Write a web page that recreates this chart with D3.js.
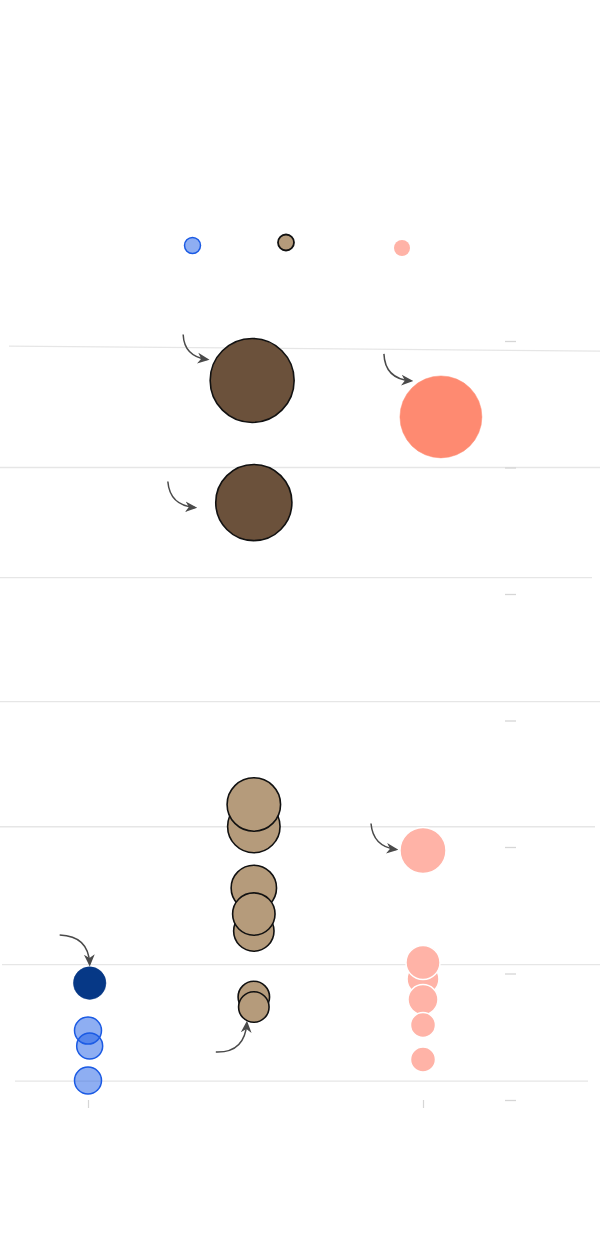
<!DOCTYPE html>
<html>
<head>
<meta charset="utf-8">
<script src="https://cdn.jsdelivr.net/npm/d3@7"></script>
<style>
  html, body { margin: 0; padding: 0; background: #fff; }
  svg { display: block; }
</style>
</head>
<body>
<svg id="chart" width="600" height="1258"></svg>
<script>
// ---------- data ----------
const categories = ["blue", "brown", "salmon"];
const yTicks = [0, 10, 20, 30, 40, 50, 60];
const xTicks = [0, 2];
// gridline values (start value at left, end value at right)
const gridStart = [59.6, 50.0, 41.3, 31.5, 21.6, 10.7, 1.5];
const gridEnd   = [59.2, 50.0, 41.3, 31.5, 21.6, 10.7, 1.5];

// each point: x (column value), y value, size (area value), highlighted flag
const bluePoints = [
  { x: 0.00, y: 5.49, size: 7.29, hi: false },
  { x: 0.01, y: 4.27, size: 6.76, hi: false },
  { x: 0.00, y: 1.54, size: 7.29, hi: false },
  { x: 0.01, y: 9.24, size: 10.6, hi: true }
];
const brownPoints = [
  { x: 0.98, y: 56.88, size: 70.5, hi: true },
  { x: 0.99, y: 47.23, size: 58.0, hi: true },
  { x: 0.99, y: 21.62, size: 27.5, hi: false },
  { x: 0.99, y: 23.36, size: 28.6, hi: false },
  { x: 0.99, y: 16.76, size: 20.6, hi: false },
  { x: 0.99, y: 13.36, size: 16.3, hi: false },
  { x: 0.99, y: 14.70, size: 18.0, hi: false },
  { x: 0.99, y: 8.14,  size: 9.9,  hi: false },
  { x: 0.99, y: 7.35,  size: 9.3,  hi: false }
];
const salmonPoints = [
  { x: 2.107, y: 54.0, size: 67.2, hi: true },
  { x: 2.00, y: 9.57,  size: 10.2, hi: false },
  { x: 2.00, y: 10.87, size: 11.6, hi: false },
  { x: 2.00, y: 7.94,  size: 9.0,  hi: false },
  { x: 2.00, y: 5.93,  size: 6.25, hi: false },
  { x: 2.00, y: 3.20,  size: 6.25, hi: false },
  { x: 2.00, y: 19.72, size: 21.2, hi: false }
];

// ---------- scales ----------
const svg = d3.select("#chart");
const x = d3.scaleLinear().domain([0, 2]).range([88, 423]);
const y = d3.scaleLinear().domain([0, 60]).range([1100, 341]);
const r = d3.scaleSqrt().domain([0, 100]).range([0, 50]);

const styles = {
  blue:   { light: { fill: "#1d5ee6", fillOpacity: 0.5, stroke: "#1a5ae4", sw: 1.5 },
            dark:  { fill: "#063886", fillOpacity: 1, stroke: "#063886", sw: 0.5 } },
  brown:  { light: { fill: "#b59b7b", fillOpacity: 1, stroke: "#111", sw: 1.6 },
            dark:  { fill: "#6b513b", fillOpacity: 1, stroke: "#111", sw: 1.6 } },
  salmon: { light: { fill: "#ffb3a7", fillOpacity: 1, stroke: "#fff", sw: 1.5 },
            dark:  { fill: "#fe8a71", fillOpacity: 1, stroke: "#fe8a71", sw: 0.5 } }
};

// ---------- gridlines ----------
const gridExt = [[9, 600], [0, 600], [0, 592], [0, 600], [0, 595], [2, 600], [15, 588]];
svg.append("g").selectAll("line")
  .data(gridStart)
  .join("line")
  .attr("x1", (d, i) => gridExt[i][0])
  .attr("x2", (d, i) => gridExt[i][1])
  .attr("y1", d => y(d))
  .attr("y2", (d, i) => y(gridEnd[i]))
  .attr("stroke", "#e6e6e6")
  .attr("stroke-width", 1.3);

// ---------- right axis (tick marks only) ----------
const yAxis = d3.axisRight(y).tickValues(yTicks).tickSize(11).tickFormat("");
const gy = svg.append("g").attr("transform", "translate(505,0)").call(yAxis);
gy.select(".domain").remove();
gy.selectAll(".tick line").attr("stroke", "#d6d6d6").attr("stroke-width", 1.3);

// ---------- bottom axis (tick marks only) ----------
const xAxis = d3.axisBottom(x).tickValues(xTicks).tickSize(8).tickFormat("");
const gx = svg.append("g").attr("transform", "translate(0,1100)").call(xAxis);
gx.select(".domain").remove();
gx.selectAll(".tick line").attr("stroke", "#d6d6d6").attr("stroke-width", 1.2);

// ---------- points ----------
const series = [
  { key: "blue", pts: bluePoints },
  { key: "brown", pts: brownPoints },
  { key: "salmon", pts: salmonPoints }
];
series.forEach(s => {
  svg.append("g").selectAll("circle")
    .data(s.pts)
    .join("circle")
    .attr("cx", d => x(d.x))
    .attr("cy", d => y(d.y))
    .attr("r", d => r(d.size))
    .attr("fill", d => styles[s.key][d.hi ? "dark" : "light"].fill)
    .attr("fill-opacity", d => styles[s.key][d.hi ? "dark" : "light"].fillOpacity)
    .attr("stroke", d => styles[s.key][d.hi ? "dark" : "light"].stroke)
    .attr("stroke-width", d => styles[s.key][d.hi ? "dark" : "light"].sw);
});

// ---------- legend ----------
const legendPos = [[192.5, 245.5], [286, 242.5], [402, 248]];
const lg = svg.append("g");
categories.forEach((c, i) => {
  const st = styles[c].light;
  lg.append("circle")
    .attr("cx", legendPos[i][0]).attr("cy", legendPos[i][1])
    .attr("r", 8)
    .attr("fill", st.fill).attr("fill-opacity", st.fillOpacity)
    .attr("stroke", c === "salmon" ? "none" : st.stroke)
    .attr("stroke-width", c === "brown" ? 1.8 : 1.5);
});

// ---------- annotation arrows ----------
const defs = svg.append("defs");
defs.append("marker")
  .attr("id", "arrow")
  .attr("viewBox", "0 0 10 10")
  .attr("refX", 8).attr("refY", 5)
  .attr("markerWidth", 8).attr("markerHeight", 8)
  .attr("markerUnits", "strokeWidth")
  .attr("orient", "auto")
  .append("path")
  .attr("d", "M0,0.5 L10,5 L0,9.5 L3,5 Z")
  .attr("fill", "#4a4a4a");

// each arrow points at a point: [start offset], [control offset], [tip offset] relative to the point centre
const annotations = [
  { p: brownPoints[0],  s: [-69, -46], c: [-68, -24], t: [-45, -21] },
  { p: brownPoints[1],  s: [-86, -21], c: [-84, 3],   t: [-59, 5] },
  { p: salmonPoints[0], s: [-57, -63], c: [-56, -38], t: [-30, -36] },
  { p: salmonPoints[6], s: [-52, -27], c: [-50, -4],  t: [-27, -1] },
  { p: bluePoints[3],   s: [-30, -48], c: [-1, -47],  t: [0, -19] },
  { p: brownPoints[8],  s: [-38, 45],  c: [-9, 46],   t: [-7, 16] }
];
svg.append("g").selectAll("path")
  .data(annotations)
  .join("path")
  .attr("d", a => {
    const cx = x(a.p.x), cy = y(a.p.y);
    return `M${cx + a.s[0]},${cy + a.s[1]} Q${cx + a.c[0]},${cy + a.c[1]} ${cx + a.t[0]},${cy + a.t[1]}`;
  })
  .attr("fill", "none")
  .attr("stroke", "#4a4a4a")
  .attr("stroke-width", 1.5)
  .attr("marker-end", "url(#arrow)");
</script>
</body>
</html>
